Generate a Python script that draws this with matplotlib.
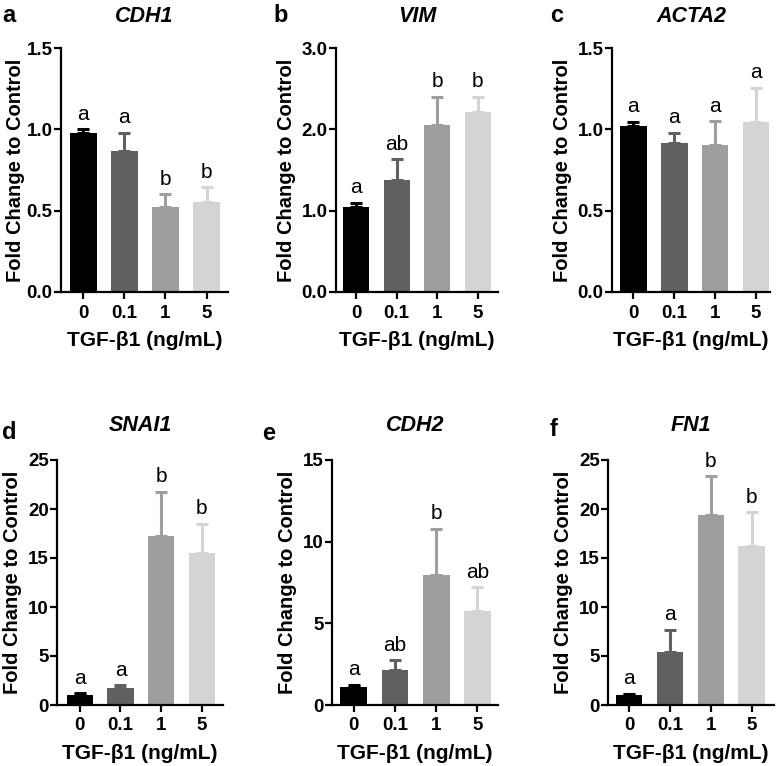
import numpy as np
import matplotlib
matplotlib.use("Agg")
import matplotlib.pyplot as plt

plt.rcParams['font.family'] = ['Liberation Sans', 'DejaVu Sans']

# doses (ng/mL) shown on the x axis
doses = ['0', '0.1', '1', '5']
bar_colors = ['#000000', '#606060', '#9e9e9e', '#d4d4d4']

# gene names, panel letters
genes = ['CDH1', 'VIM', 'ACTA2', 'SNAI1', 'CDH2', 'FN1']
panels = ['a', 'b', 'c', 'd', 'e', 'f']

# mean fold change and upper error (SEM) per gene
cdh1_mean = [0.98, 0.865, 0.525, 0.555]
cdh1_err = [0.02, 0.115, 0.075, 0.09]
vim_mean = [1.05, 1.38, 2.05, 2.21]
vim_err = [0.05, 0.25, 0.35, 0.19]
acta2_mean = [1.02, 0.915, 0.905, 1.045]
acta2_err = [0.025, 0.065, 0.145, 0.21]
snai1_mean = [1.0, 1.7, 17.25, 15.55]
snai1_err = [0.2, 0.3, 4.5, 2.95]
cdh2_mean = [1.08, 2.14, 7.98, 5.75]
cdh2_err = [0.15, 0.6, 2.82, 1.45]
fn1_mean = [1.0, 5.45, 19.35, 16.2]
fn1_err = [0.15, 2.2, 4.0, 3.45]

# significance letters
cdh1_sig = ['a', 'a', 'b', 'b']
vim_sig = ['a', 'ab', 'b', 'b']
acta2_sig = ['a', 'a', 'a', 'a']
snai1_sig = ['a', 'a', 'b', 'b']
cdh2_sig = ['a', 'ab', 'b', 'ab']
fn1_sig = ['a', 'a', 'b', 'b']

means = [cdh1_mean, vim_mean, acta2_mean, snai1_mean, cdh2_mean, fn1_mean]
errs = [cdh1_err, vim_err, acta2_err, snai1_err, cdh2_err, fn1_err]
sigs = [cdh1_sig, vim_sig, acta2_sig, snai1_sig, cdh2_sig, fn1_sig]

# y axis ticks per panel
yticks = [[0, 0.5, 1.0, 1.5], [0, 1.0, 2.0, 3.0], [0, 0.5, 1.0, 1.5],
          [0, 5, 10, 15, 20, 25], [0, 5, 10, 15], [0, 5, 10, 15, 20, 25]]
yfmt = ['{:.1f}', '{:.1f}', '{:.1f}', '{:d}', '{:d}', '{:d}']

W, H = 778, 766
fig = plt.figure(figsize=(W / 100, H / 100), dpi=100)

# axes boxes in pixels: left, right, top, bottom
boxes = [(61, 228, 48, 292), (336, 498, 48, 292), (612, 770, 48, 292),
         (57, 223, 460, 705), (332, 498, 460, 705), (608, 774, 460, 705)]
xlims = [(-0.54, 3.52), (-0.5, 3.5), (-0.52, 3.34),
         (-0.56, 3.52), (-0.53, 3.5), (-0.52, 3.55)]
letter_pos = [(2, 15), (273, 15), (550, 15), (2, 432), (262, 433), (550, 430)]
title_pad = [18.5, 18.5, 18.5, 21, 21, 21]
ylabel_pad = [1.5, 4, 4, 4, 4, 4]

x = np.arange(len(doses))
for i in range(6):
    l, r, t, b = boxes[i]
    ax = fig.add_axes([l / W, 1 - b / H, (r - l) / W, (b - t) / H])
    for j in range(len(doses)):
        ax.bar(x[j], means[i][j], width=0.65, color=bar_colors[j], zorder=2)
        ax.errorbar(x[j], means[i][j], yerr=[[0], [errs[i][j]]], fmt='none',
                    ecolor=bar_colors[j], elinewidth=2.2, capsize=4,
                    capthick=2.2, zorder=1)
        ax.annotate(sigs[i][j], (x[j], means[i][j] + errs[i][j]),
                    xytext=(0, 4), textcoords='offset points',
                    ha='center', va='bottom', fontsize=15)
    ax.set_xlim(*xlims[i])
    ax.set_ylim(0, yticks[i][-1])
    ax.set_yticks(yticks[i])
    ax.set_yticklabels([yfmt[i].format(v) for v in yticks[i]],
                       fontsize=13.5, fontweight='bold')
    ax.set_xticks(x)
    ax.set_xticklabels(doses, fontsize=13.5, fontweight='bold')
    ax.spines['top'].set_visible(False)
    ax.spines['right'].set_visible(False)
    ax.spines['left'].set_linewidth(1.6)
    ax.spines['bottom'].set_linewidth(1.6)
    ax.tick_params(width=1.6, length=5)
    ax.tick_params(axis='y', pad=1)
    ax.tick_params(axis='x', pad=4)
    ax.set_ylabel('Fold Change to Control', fontsize=14.5, fontweight='bold',
                  labelpad=ylabel_pad[i])
    ax.set_xlabel('TGF-β1 (ng/mL)', fontsize=15, fontweight='bold',
                  labelpad=7)
    ax.set_title(genes[i], fontsize=15.5, fontweight='bold', fontstyle='italic',
                 pad=title_pad[i])
    px, py = letter_pos[i]
    fig.text(px / W, 1 - py / H, panels[i], fontsize=17, fontweight='bold',
             ha='left', va='center')

fig.savefig('out.png', dpi=100)
